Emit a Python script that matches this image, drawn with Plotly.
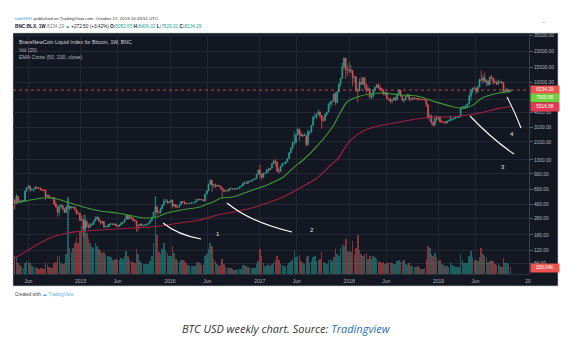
import numpy as np
import pandas as pd
import plotly.graph_objects as go

# ---------------- data (weekly BNC:BLX) ----------------
first_week = "2014-04-07"
first_open = 450.0

close = [
    # 2014 (from Apr 07)
    418, 500, 440, 432, 440, 445, 575, 628, 650, 592, 595, 605, 635, 625, 620, 595, 590, 585, 495, 510,
    480, 475, 480, 405, 375, 330, 380, 390, 355, 325, 375, 385, 365, 375, 375, 350, 320, 318, 265,
    # 2015
    268, 210, 255, 225, 222, 235, 237, 260, 275, 285, 260, 250, 255, 222, 225, 225, 240, 240, 237, 240,
    230, 225, 235, 245, 251, 270, 300, 276, 290, 280, 265, 260, 230, 230, 240, 230, 232, 234, 240, 246,
    264, 285, 325, 375, 330, 325, 360, 395, 435, 440, 420, 430,
    # 2016
    450, 385, 400, 375, 375, 400, 435, 430, 415, 413, 413, 416, 420, 420, 430, 460, 455, 460, 455, 440,
    530, 575, 680, 760, 670, 675, 650, 665, 655, 625, 590, 570, 580, 575, 610, 605, 610, 600, 610, 615,
    640, 655, 700, 705, 700, 740, 735, 765, 775, 790, 890, 1000,
    # 2017
    900, 820, 920, 920, 1010, 1000, 1050, 1180, 1270, 1230, 970, 960, 1100, 1180, 1180, 1250, 1350, 1570, 1750, 2050,
    2050, 2520, 2950, 2550, 2450, 2500, 2500, 1950, 2750, 2750, 3250, 4050, 4050, 4350, 4600, 4200, 3700, 3700, 4350, 4600,
    5700, 6000, 6150, 7400, 5950, 7800, 9700, 11200, 15200, 19000, 14000, 13800,
    # 2018
    14000, 13600, 11500, 11600, 8200, 8100, 10200, 9600, 11300, 9500, 8200, 8500, 6900, 7000, 8300, 8900, 9400, 8700, 8500, 8200,
    7350, 7700, 6550, 6450, 6150, 6350, 6750, 6350, 7400, 8200, 7050, 6300, 6400, 7000, 7300, 6500, 6500, 6700, 6600, 6600,
    6450, 6450, 6400, 6400, 6350, 5600, 4000, 4150, 3550, 3250, 3900, 3850,
    # 2019 (to Oct 21)
    4050, 3550, 3550, 3550, 3450, 3650, 3650, 3850, 3850, 3900, 4000, 4000, 4100, 5050, 5150, 5300, 5300, 5700, 7000, 8000,
    8700, 8600, 8000, 8950, 10800, 10700, 11400, 10200, 10500, 9500, 11600, 11300, 10200, 10100, 9600, 10300, 10300, 10000, 8050, 8150,
    8300, 7961.79, 8234.29,
]

high = [
    470, 535, 505, 460, 455, 452, 580, 632, 680, 665, 612, 610, 655, 640, 630, 625, 598, 595, 590, 525,
    520, 490, 485, 480, 440, 390, 400, 410, 395, 365, 385, 460, 390, 385, 385, 380, 355, 335, 320,
    300, 270, 310, 265, 245, 245, 248, 262, 295, 297, 288, 265, 262, 260, 228, 238, 242, 248, 245, 242,
    242, 232, 237, 255, 252, 272, 312, 300, 295, 297, 283, 270, 260, 238, 242, 245, 235, 238, 242, 248,
    268, 290, 335, 500, 390, 336, 370, 400, 468, 465, 460, 435,
    460, 450, 410, 400, 380, 405, 440, 440, 440, 418, 418, 420, 422, 424, 432, 462, 468, 465, 462, 458,
    535, 585, 700, 780, 770, 690, 700, 675, 670, 660, 625, 600, 585, 585, 612, 630, 612, 610, 612, 620,
    642, 660, 720, 745, 740, 752, 745, 770, 780, 795, 900, 1000,
    1150, 910, 925, 930, 1020, 1060, 1060, 1190, 1290, 1330, 1250, 1060, 1110, 1200, 1210, 1260, 1360, 1590, 1820, 2100,
    2750, 2560, 2990, 2950, 2750, 2600, 2650, 2520, 2900, 2820, 3290, 4100, 4450, 4400, 4950, 4700, 4250, 4100, 4400, 4600,
    5800, 6150, 6200, 7600, 7850, 8000, 9800, 11400, 17000, 19700, 19200, 15800,
    17200, 16000, 14000, 12000, 11900, 8600, 11200, 11700, 11600, 11700, 9900, 9150, 8500, 7500, 8400, 9000, 9700, 9900, 9500, 8800,
    8400, 7750, 7800, 6700, 6800, 6450, 6800, 6900, 7600, 8450, 8200, 7150, 6600, 7100, 7400, 7400, 6600, 6800, 6800, 6700,
    6650, 6700, 6500, 6550, 6550, 6350, 5600, 4400, 4300, 3600, 4200, 4200,
    4100, 4100, 3700, 3650, 3580, 3700, 3700, 4200, 3900, 3950, 4050, 4100, 4150, 5300, 5450, 5400, 5650, 5800, 7500, 8400,
    8800, 9100, 8800, 9250, 11200, 13800, 12300, 13150, 11000, 10600, 11900, 12300, 11450, 10900, 10600, 10900, 10450, 10400, 10100, 8500,
    8800, 8400, 8406.02,
]

low = [
    350, 410, 430, 420, 425, 430, 440, 560, 620, 555, 580, 560, 600, 610, 605, 585, 570, 575, 450, 480,
    475, 470, 465, 395, 375, 290, 300, 370, 345, 320, 322, 355, 345, 360, 365, 345, 305, 310, 262,
    262, 170, 200, 215, 210, 218, 228, 235, 255, 270, 255, 236, 240, 218, 215, 218, 220, 233, 233, 233,
    225, 220, 224, 230, 240, 247, 266, 270, 270, 277, 258, 258, 195, 200, 225, 228, 225, 228, 232, 236,
    244, 262, 285, 320, 300, 315, 315, 355, 390, 430, 410, 415,
    420, 360, 375, 365, 365, 370, 400, 415, 400, 404, 408, 410, 412, 416, 418, 428, 445, 445, 450, 435,
    438, 525, 570, 675, 560, 620, 620, 640, 650, 600, 480, 565, 565, 565, 570, 600, 600, 595, 598, 605,
    612, 630, 652, 680, 690, 695, 725, 728, 755, 770, 790, 880,
    800, 760, 815, 890, 915, 940, 990, 1050, 1170, 1100, 950, 900, 950, 1090, 1160, 1170, 1240, 1340, 1550, 1730,
    1900, 2030, 2500, 2150, 2420, 2350, 2450, 1850, 1920, 2500, 2650, 3200, 3950, 3850, 4300, 3950, 2950, 3550, 3650, 4150,
    4600, 5100, 5450, 6100, 5500, 5800, 7800, 9000, 11000, 14500, 11000, 12000,
    13000, 12800, 9100, 10000, 7800, 6000, 7900, 9400, 9400, 8500, 7500, 7950, 6550, 6500, 6600, 7800, 8700, 8600, 8300, 7950,
    7200, 7050, 6450, 6150, 5800, 5800, 6250, 6100, 6300, 7400, 6900, 6100, 5900, 6250, 6850, 6100, 6200, 6250, 6350, 6500,
    6200, 6400, 6380, 6300, 6280, 5300, 3800, 3550, 3300, 3150, 3250, 3600,
    3700, 3500, 3500, 3500, 3370, 3400, 3580, 3600, 3700, 3700, 3830, 3950, 3950, 4100, 4950, 5050, 5100, 5300, 5650, 6200,
    7500, 8400, 7500, 7600, 8950, 10300, 9700, 10100, 9100, 9200, 9400, 11000, 9500, 9800, 9400, 9600, 9900, 9700, 7800, 7750,
    7900, 7900, 7829.02,
]

volume_k = [
    420, 380, 250, 200, 150, 130, 260, 300, 280, 250, 180, 170, 160, 140, 120, 130, 140, 120, 260, 200,
    150, 130, 140, 240, 280, 400, 420, 260, 220, 260, 450, 1750, 600, 500, 600, 700, 850, 700, 950,
    1100, 1340, 1250, 930, 800, 700, 620, 600, 700, 640, 560, 520, 480, 510, 430, 400, 420, 380, 330, 320,
    350, 330, 320, 360, 340, 420, 520, 410, 350, 300, 280, 260, 560, 450, 300, 260, 230, 220, 220, 230,
    300, 400, 700, 1750, 900, 500, 450, 580, 700, 520, 480, 400,
    420, 650, 480, 350, 300, 280, 320, 310, 300, 240, 200, 190, 180, 180, 190, 260, 270, 250, 200, 230,
    420, 450, 560, 700, 650, 350, 300, 220, 180, 200, 350, 220, 150, 130, 140, 130, 110, 100, 100, 110,
    120, 120, 200, 210, 180, 170, 130, 140, 130, 140, 220, 300,
    560, 420, 250, 180, 200, 230, 180, 220, 270, 320, 400, 330, 230, 200, 180, 170, 200, 260, 300, 350,
    520, 380, 400, 430, 290, 260, 220, 380, 400, 260, 300, 380, 400, 300, 330, 350, 500, 280, 240, 230,
    330, 350, 300, 380, 560, 450, 420, 600, 680, 650, 800, 500,
    520, 500, 750, 450, 600, 900, 550, 450, 400, 450, 480, 350, 420, 350, 400, 380, 350, 300, 280, 250,
    270, 230, 260, 240, 280, 250, 230, 220, 300, 330, 280, 300, 320, 220, 210, 260, 180, 190, 170, 150,
    180, 140, 120, 120, 130, 350, 650, 600, 450, 400, 480, 380,
    300, 330, 220, 200, 190, 180, 170, 280, 210, 180, 170, 160, 170, 450, 320, 250, 260, 250, 400, 520,
    380, 330, 320, 300, 380, 600, 450, 400, 380, 270, 300, 320, 300, 230, 210, 220, 180, 160, 360, 260,
    250, 220, 159.04,
]

# EMA Cross (50, 200, close)
ema50_dates = ["2014-04-07", "2014-07-31", "2014-09-10", "2014-11-07", "2015-01-11", "2015-03-21", "2015-05-29",
               "2015-08-02", "2015-09-28", "2015-11-08", "2015-12-19", "2016-02-22", "2016-05-02", "2016-05-31",
               "2016-06-24", "2016-07-30", "2016-09-14", "2016-11-22", "2017-01-31", "2017-04-07", "2017-05-17",
               "2017-06-27", "2017-08-25", "2017-10-27", "2017-12-23", "2018-02-02", "2018-03-27", "2018-05-19",
               "2018-07-27", "2018-10-04", "2018-12-08", "2019-02-16", "2019-03-28", "2019-04-20", "2019-05-20",
               "2019-06-27", "2019-09-04", "2019-10-21"]
ema50 = [415, 477, 477, 429, 376, 338, 321, 296, 281, 289, 321, 350, 376, 406, 429, 477, 490, 575, 673, 830, 1050,
         1300, 1900, 3170, 6010, 6860, 7430, 7630, 7230, 7040, 6170, 5410, 5130, 5150, 5500, 6680, 7630, 7900.85]

ema200_dates = ["2014-04-07", "2014-05-07", "2014-06-21", "2014-08-29", "2014-11-07", "2015-01-11", "2015-03-21",
                "2015-08-02", "2015-10-11", "2015-12-19", "2016-02-22", "2016-05-02", "2016-07-10", "2016-09-14",
                "2016-11-22", "2017-01-31", "2017-04-07", "2017-06-15", "2017-08-23", "2017-10-27", "2017-11-12",
                "2018-01-04", "2018-03-07", "2018-05-19", "2018-07-27", "2018-10-04", "2018-12-08", "2019-02-16",
                "2019-05-01", "2019-06-27", "2019-09-04", "2019-10-21"]
ema200 = [98, 109, 131, 166, 189, 199, 205, 216, 222, 234, 250, 267, 302, 329, 361, 418, 490, 621, 809, 1200, 1300,
          2150, 2870, 3270, 3550, 3840, 4040, 4040, 4260, 4550, 5080, 5316.68]

# price-scale grid levels; 6500 has a grid line but its label sits under the value tags
price_ticks = [84, 120, 180, 280, 400, 600, 900, 1300, 2100, 3100, 4600, 6500, 10000, 15000, 23000, 35000]
price_tick_labels = ["84.00", "120.00", "180.00", "280.00", "400.00", "600.00", "900.00", "1300.00", "2100.00",
                     "3100.00", "4600.00", "", "10000.00", "15000.00", "23000.00", "35000.00"]
time_ticks = ["2014-06-01", "2015-01-01", "2015-06-01", "2016-01-01", "2016-06-01", "2017-01-01",
              "2017-06-01", "2018-01-01", "2018-06-01", "2019-01-01", "2019-06-01", "2020-01-01"]
time_tick_labels = ["Jun", "2015", "Jun", "2016", "Jun", "2017", "Jun", "2018", "Jun", "2019", "Jun", "20"]

x_range = ["2014-03-31", "2020-01-05"]
price_range = [64.1, 37150]
volume_top = 5500

# ---------------- figure ----------------
assert len(close) == len(high) == len(low) == len(volume_k)
dates = pd.date_range(first_week, periods=len(close), freq="7D")
opens = [first_open] + close[:-1]
up = [c >= o for c, o in zip(close, opens)]

BG = "#131722"
GRID = "#232734"
TICK = "#b2b5be"
UP = "#26a69a"
DOWN = "#ef5350"
FONT = "Liberation Sans"

W, H = 576, 345
L, R, T, B = 13, 47, 33, 71
PW, PH = W - L - R, H - T - B


def px(x, y):
    """pixel position in the image -> paper coordinates"""
    return (x - L) / PW, (H - B - y) / PH


fig = go.Figure()

fig.add_trace(go.Bar(
    x=dates, y=volume_k, yaxis="y",
    marker=dict(color=["rgba(38,166,154,0.5)" if u else "rgba(239,83,80,0.5)" for u in up], line_width=0),
    width=7 * 24 * 3600 * 1000 * 0.9, hoverinfo="skip",
))

fig.add_trace(go.Scatter(
    x=x_range, y=[close[-1], close[-1]], yaxis="y2", mode="lines",
    line=dict(color=DOWN, width=0.8, dash="dot"), hoverinfo="skip",
))

fig.add_trace(go.Scatter(
    x=ema200_dates, y=ema200, yaxis="y2", mode="lines",
    line=dict(color="#a31f40", width=1.1, shape="spline", smoothing=0.8), hoverinfo="skip",
))
fig.add_trace(go.Scatter(
    x=ema50_dates, y=ema50, yaxis="y2", mode="lines",
    line=dict(color="#3e9c35", width=1.1, shape="spline", smoothing=0.8), hoverinfo="skip",
))

fig.add_trace(go.Candlestick(
    x=dates, open=opens, high=high, low=low, close=close, yaxis="y2",
    increasing=dict(line=dict(color=UP, width=0.7), fillcolor=UP),
    decreasing=dict(line=dict(color=DOWN, width=0.7), fillcolor=DOWN),
    whiskerwidth=0, hoverinfo="skip",
))

fig.update_layout(
    width=W, height=H, margin=dict(l=L, r=R, t=T, b=B, pad=0),
    paper_bgcolor="white", plot_bgcolor=BG, showlegend=False, hovermode=False,
    font=dict(family=FONT, color=TICK, size=5),
    bargap=0,
    xaxis=dict(
        type="date", range=x_range, tickvals=time_ticks, ticktext=time_tick_labels,
        showgrid=True, gridcolor=GRID, gridwidth=1, zeroline=False,
        tickfont=dict(size=5, color=TICK, family=FONT), ticks="outside", ticklen=2, tickcolor=BG,
        showline=True, linecolor="#2a2e39", linewidth=1,
        rangeslider=dict(visible=False), fixedrange=True,
    ),
    yaxis=dict(range=[0, volume_top], visible=False, showgrid=False, fixedrange=True),
    yaxis2=dict(
        type="log", range=[np.log10(price_range[0]), np.log10(price_range[1])],
        overlaying="y", side="right", anchor="x",
        tickvals=price_ticks, ticktext=price_tick_labels,
        showgrid=True, gridcolor=GRID, gridwidth=1, zeroline=False,
        tickfont=dict(size=4.8, color=TICK, family=FONT),
        ticks="outside", ticklen=3, tickcolor="#5d606b", tickwidth=0.8,
        showline=True, linecolor="#3a3e4a", linewidth=1, fixedrange=True,
    ),
)

# dark panel behind plot, price scale and time scale
x1p, y0p = px(558, 286)
fig.add_shape(type="rect", xref="paper", yref="paper", x0=0, x1=x1p, y0=y0p, y1=1,
              fillcolor=BG, line=dict(color="#c4c7cc", width=0.6), layer="below")

# value labels on the price scale (TradingView stacks them so they do not overlap)
lx = px(530, 0)[0]
label_specs = [(f"{close[-1]:.2f}", 90.4, DOWN),
               (f"{ema50[-1]:.2f}", 98.4, "#6fcf3c"),
               (f"{ema200[-1]:.2f}", 106.6, "#e33b52"),
               (f"{volume_k[-1]:.2f}K", 268.0, DOWN)]
for txt, ypix, bg in label_specs:
    fig.add_annotation(xref="paper", yref="paper", x=lx, y=px(0, ypix)[1], xanchor="left", yanchor="middle",
                       text=txt, showarrow=False, bgcolor=bg, borderpad=0.5, width=27, height=6.5,
                       font=dict(size=4.8, color="white", family=FONT))

# legend lines in the panel
for i, (txt, col) in enumerate([("BraveNewCoin Liquid Index for Bitcoin, 1W, BNC", "#d1d4dc"),
                                ("Vol (20)", "#b2b5be"),
                                ("EMA Cross (50, 200, close)", "#b2b5be")]):
    xx, yy = px(17, 42 + 7.6 * i)
    fig.add_annotation(xref="paper", yref="paper", x=xx, y=yy, xanchor="left", yanchor="middle",
                       text=txt, showarrow=False, font=dict(size=5.2, color=col, family=FONT))

# header
xx, yy = px(13, 18)
fig.add_annotation(xref="paper", yref="paper", x=xx, y=yy, xanchor="left", yanchor="middle", showarrow=False,
                   text='<span style="color:#3d9be9">kdix9991</span> published on TradingView.com, '
                        'October 21, 2019 16:43:51 UTC',
                   font=dict(size=4.4, color="#333333", family=FONT))
G = "#26a69a"
xx, yy = px(13, 26)
fig.add_annotation(xref="paper", yref="paper", x=xx, y=yy, xanchor="left", yanchor="middle", showarrow=False,
                   text=f'<b>BNC:BLX, 1W</b> <span style="color:#787b86">8234.29</span> '
                        f'<span style="color:{G}">▲</span> +272.50 (+3.42%) '
                        f'<b>O:</b><span style="color:{G}">8282.65</span> <b>H:</b><span style="color:{G}">8406.02</span> '
                        f'<b>L:</b><span style="color:{G}">7829.02</span> <b>C:</b><span style="color:{G}">8234.29</span>',
                   font=dict(size=4.7, color="#131722", family=FONT))
xx, yy = px(548, 17)
fig.add_annotation(xref="paper", yref="paper", x=xx, y=yy, text="–", showarrow=False,
                   font=dict(size=6, color="#888888", family=FONT))

# footer
xx, yy = px(13, 294)
fig.add_annotation(xref="paper", yref="paper", x=xx, y=yy, xanchor="left", yanchor="middle", showarrow=False,
                   text='Created with <span style="color:#5fb0e6">☁ TradingView</span>',
                   font=dict(size=4.6, color="#444444", family=FONT))
xx, yy = px(286.5, 328)
fig.add_annotation(xref="paper", yref="paper", x=xx, y=yy, xanchor="center", yanchor="middle", showarrow=False,
                   text='<i>BTC USD weekly chart. Source: <span style="color:#1f6fc0">Tradingview</span></i>',
                   font=dict(size=11, color="#333333", family="Open Sans"))

# hand-drawn marks and numbers
curves = [((163, 223), (178, 235), (201, 239)),
          ((227, 203), (250, 222), (292, 232)),
          ((470, 116), (493, 140), (514, 154)),
          ((507, 97), (515, 112), (521, 128))]
for a, c, b in curves:
    pa, pc, pb = px(*a), px(*c), px(*b)
    fig.add_shape(type="path", xref="paper", yref="paper",
                  path=f"M {pa[0]},{pa[1]} Q {pc[0]},{pc[1]} {pb[0]},{pb[1]}",
                  line=dict(color="white", width=1.1))
for txt, (x, y) in [("1", (218, 239)), ("2", (312, 235)), ("3", (507, 167)), ("4", (516, 134))]:
    xx, yy = px(x, y)
    fig.add_annotation(xref="paper", yref="paper", x=xx, y=yy, text=txt, showarrow=False,
                       font=dict(size=6, color="#e6e6e6", family=FONT))

fig.write_html("out.html", config={"displayModeBar": False})
